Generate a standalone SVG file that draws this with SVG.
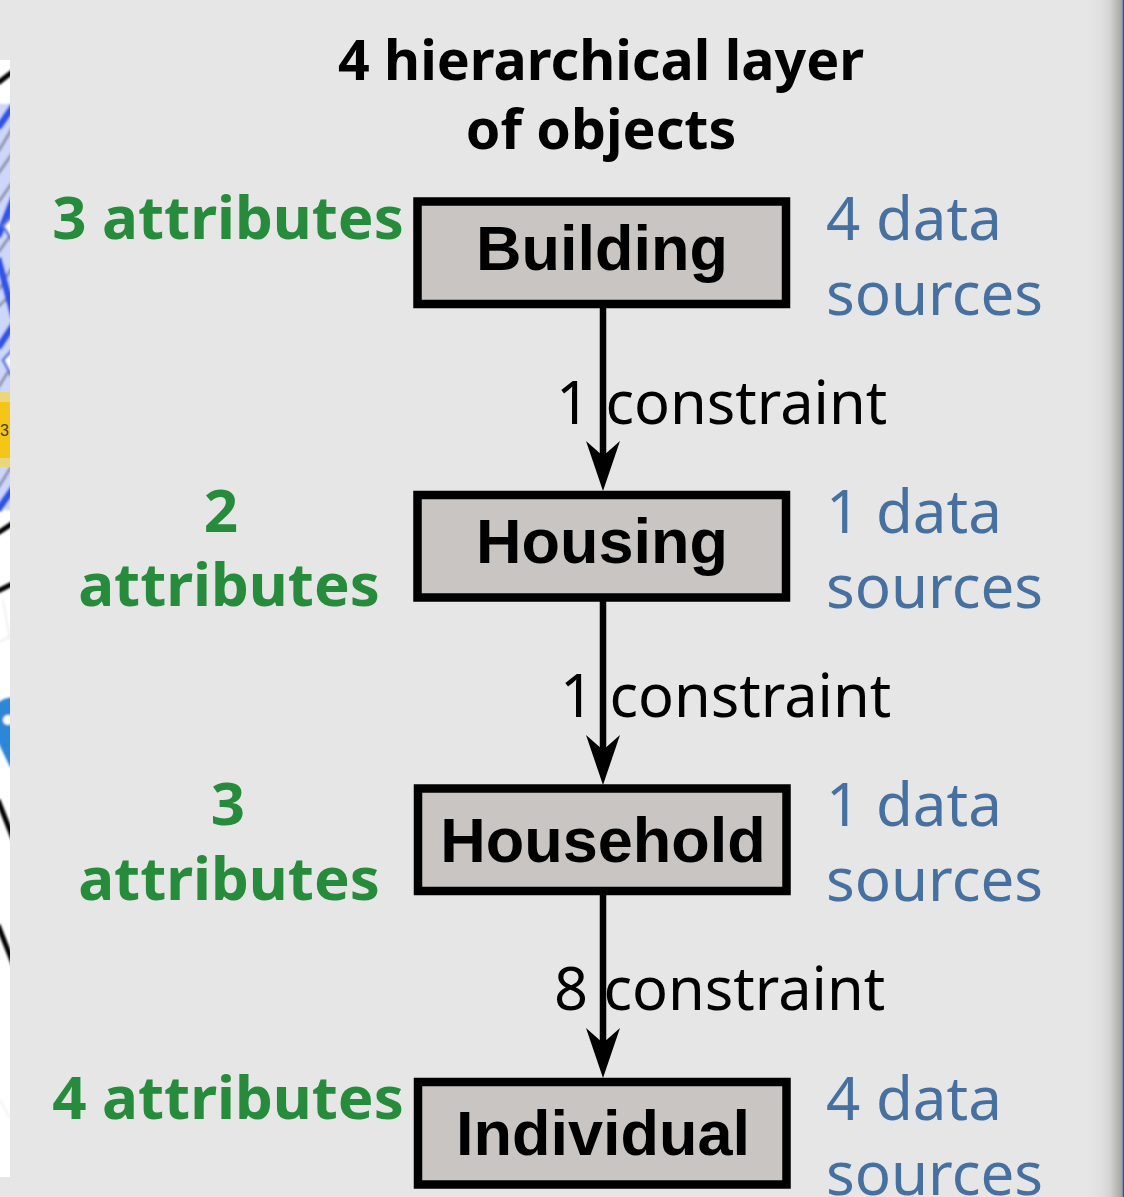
<svg xmlns="http://www.w3.org/2000/svg" width="1124" height="1197" viewBox="0 0 1124 1197">
<defs>
<linearGradient id="edge" x1="0" x2="1" y1="0" y2="0"><stop offset="0" stop-color="#e6e6e6"/><stop offset="0.4" stop-color="#dedfe0"/><stop offset="0.65" stop-color="#d2d2d2"/><stop offset="1" stop-color="#a2a29c"/></linearGradient>
<marker id="arrow" markerUnits="userSpaceOnUse" markerWidth="52" markerHeight="38" refX="30" refY="19" orient="auto" viewBox="0 0 52 38"><path d="M0,2 L15,19 L0,36 L50,19 Z" fill="#000"/></marker>
<filter id="soft" x="-20%" y="-5%" width="140%" height="110%"><feGaussianBlur stdDeviation="0.9"/></filter>
<clipPath id="strip"><rect x="0" y="60" width="10" height="1117"/></clipPath>
</defs>
<style>
.box{fill:#c9c5c3;stroke:#000;stroke-width:8.500}
.name{font:bold 63px "Liberation Sans",Arial,sans-serif;fill:#000;text-anchor:middle}
.title{font:bold 55.500px "Noto Sans","Open Sans",sans-serif;fill:#000;text-anchor:middle}
.attr{font:bold 60px "Noto Sans","Open Sans",sans-serif;fill:#268c3c;text-anchor:middle}
.src{font:60px "Noto Sans","Open Sans",sans-serif;fill:#46709f}
.con{font:59.500px "Noto Sans","Open Sans",sans-serif;fill:#000}
.edge{stroke:#000;stroke-width:6.500;fill:none;marker-end:url(#arrow)}
.grey{stroke:#8f93ad;stroke-width:3;fill:none}
.blue{stroke:#2f55e8;stroke-width:7;fill:none}
.blk{stroke:#000;stroke-width:5;fill:none}
.faint{stroke:#ececec;stroke-width:1.500;fill:none}
</style>
<rect width="1124" height="1197" fill="#e6e6e6"/>
<g id="map-fragment" clip-path="url(#strip)">
<rect x="0" y="60" width="10" height="1117" fill="#fff"/>
<g filter="url(#soft)">
<rect x="-4" y="104" width="18" height="406" fill="#cdd6fb"/>
<path class="grey" d="M-2,152 L16,122 M-2,174 L16,148 M-2,203 L16,177 M-2,253 L16,227 M-2,291 L16,261 M-2,307 L16,289 M-2,388 L16,359 M-2,488 L16,459"/>
<path class="blue" d="M-2,128 L16,102 M-2,237 L16,192 M-2,258 L16,325 M-2,348 L16,321 M-2,510 L16,484"/>
<path d="M3,226 L16,212 L16,246 Z M3,360 L16,346 L16,384 Z" fill="#fff" stroke="#5f78e2" stroke-width="3"/>
<path class="blk" d="M-2,83 L16,69 M-2,533 L16,521 M-2,591 L16,582 M-2,800 L16,846 M-2,925 L16,971"/>
<path class="faint" d="M0,642 L10,636 M3,600 L10,640 M0,1100 L10,1118"/>
<path d="M-2,703 Q5,697 16,697 L16,767 L10,767 L-2,742 Z" fill="#2f86d6"/>
<circle cx="8" cy="720" r="5" fill="#fff"/>
</g>
<rect x="0" y="392" width="10" height="75" fill="#ecd67c"/>
<rect x="0" y="402" width="10" height="56" fill="#f5c518"/>
<text x="0" y="436" font-family="'Liberation Sans',Arial,sans-serif" font-size="16" fill="#4a4020">3</text>
</g>
<g id="edge-shade"><rect x="1088" y="0" width="34.500" height="1197" fill="url(#edge)"/><rect x="1122.500" y="0" width="1.500" height="1197" fill="#2a5596"/></g>
<text class="title" x="601" y="80">4 hierarchical layer</text>
<text class="title" x="601" y="149">of objects</text>
<g id="connectors">
<path class="edge" d="M603,307 V471"/>
<path class="edge" d="M603,601 V765"/>
<path class="edge" d="M603,894 V1058"/>
</g>
<g id="building">
<rect class="box" x="417.500" y="201.500" width="368.500" height="102.500"/>
<text class="name" x="602" y="270">Building</text>
<text class="attr" x="228" y="239">3 attributes</text>
<text class="src" x="826" y="240">4 data</text><text class="src" x="826" y="315">sources</text>
</g>
<g id="housing">
<rect class="box" x="417.500" y="495" width="368.500" height="102.500"/>
<text class="name" x="602" y="563">Housing</text>
<text class="attr" x="221" y="532">2</text><text class="attr" x="229" y="606">attributes</text>
<text class="src" x="826" y="533">1 data</text><text class="src" x="826" y="608">sources</text>
</g>
<g id="household">
<rect class="box" x="418" y="788.500" width="368.500" height="102.500"/>
<text class="name" x="603" y="862">Household</text>
<text class="attr" x="228" y="825">3</text><text class="attr" x="229" y="900">attributes</text>
<text class="src" x="826" y="826">1 data</text><text class="src" x="826" y="901">sources</text>
</g>
<g id="individual">
<rect class="box" x="418" y="1082" width="368.500" height="102.500"/>
<text class="name" x="603" y="1155">Individual</text>
<text class="attr" x="228" y="1119">4 attributes</text>
<text class="src" x="826" y="1120">4 data</text><text class="src" x="826" y="1195">sources</text>
</g>
<g id="edge-labels">
<text class="con" x="556" y="424">1 constraint</text>
<text class="con" x="560" y="717">1 constraint</text>
<text class="con" x="554" y="1010">8 constraint</text>
</g>
</svg>
